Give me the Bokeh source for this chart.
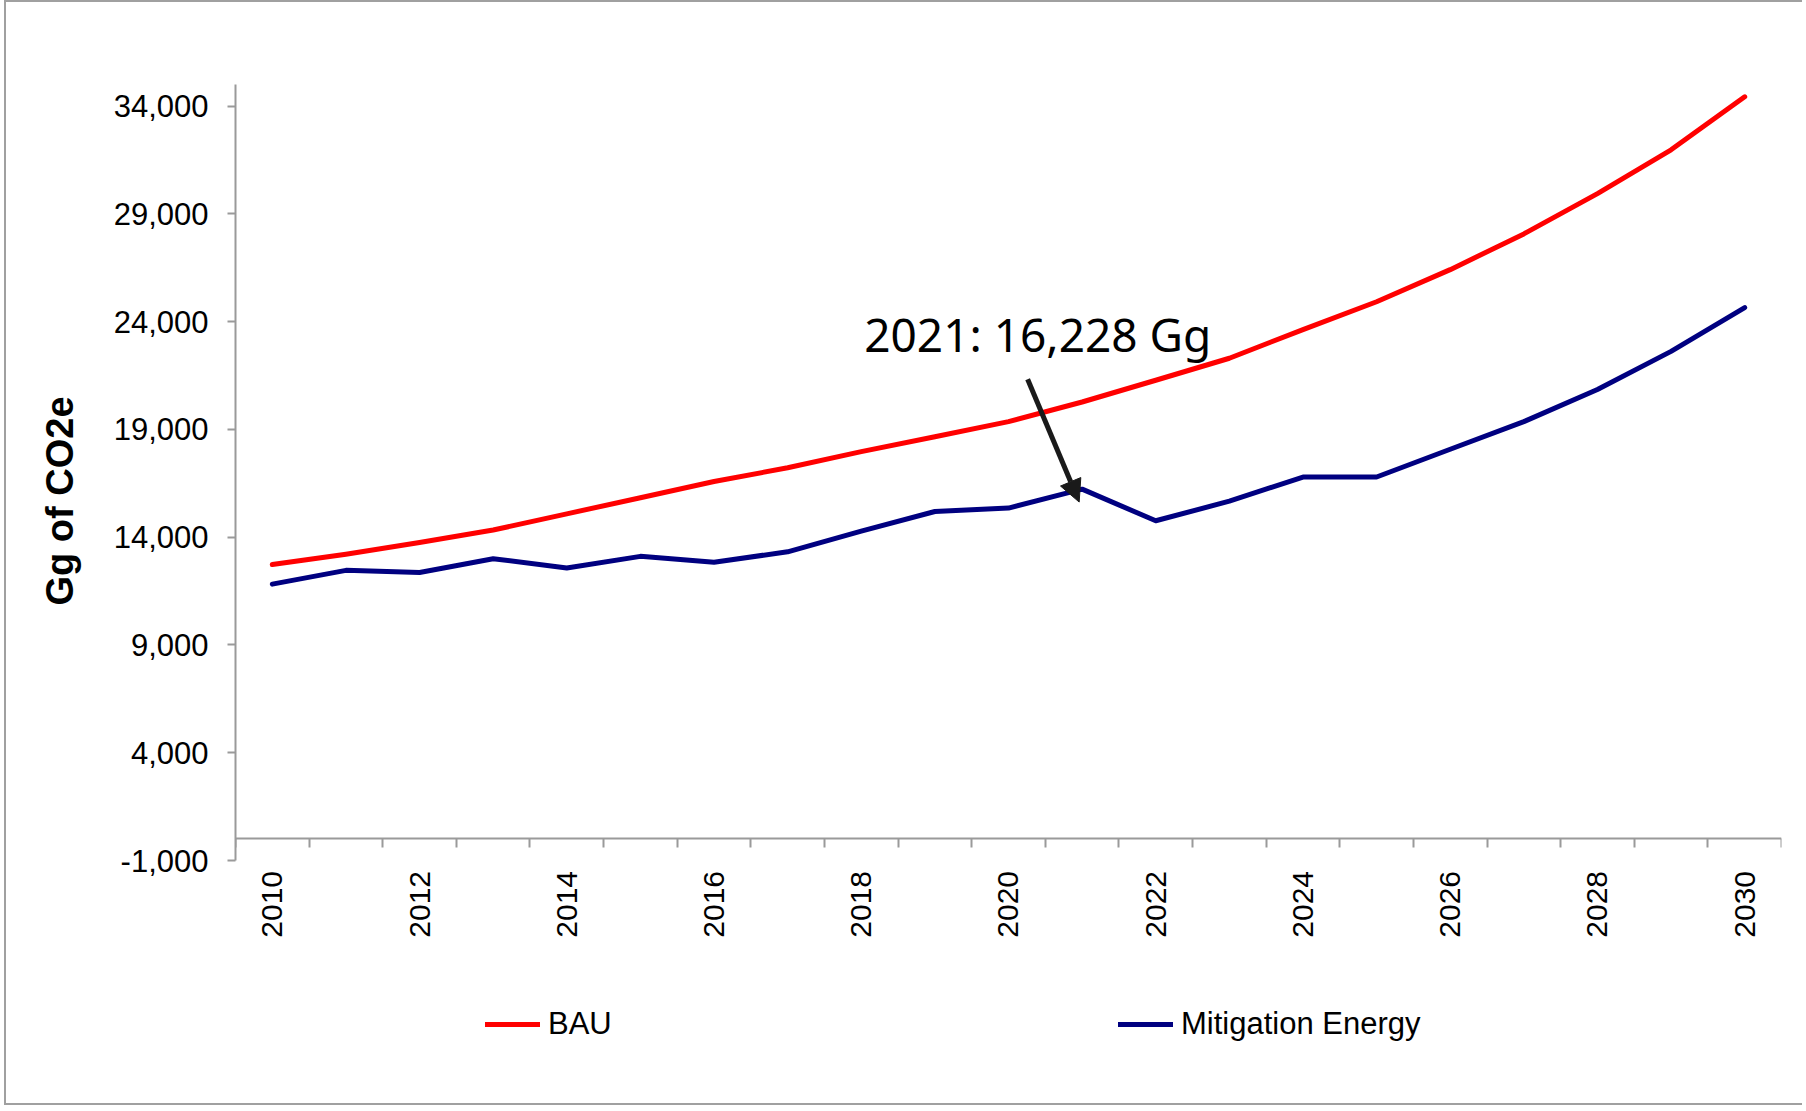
import math
from bokeh.plotting import figure
from bokeh.models import (Range1d, FixedTicker, NumeralTickFormatter, Legend, LegendItem,
                          Arrow, NormalHead, Label, Title)
from bokeh.embed import file_html
from bokeh.resources import INLINE

years = list(range(2010, 2031))
bau = [12730, 13210, 13750, 14330, 15080, 15830, 16580, 17220, 17970, 18660, 19360,
       20270, 21280, 22300, 23630, 24920, 26410, 28070, 29940, 31970, 34430]
mitigation = [11820, 12460, 12360, 13000, 12570, 13110, 12840, 13320, 14280, 15190, 15350,
              16228, 14760, 15670, 16790, 16790, 18080, 19360, 20850, 22620, 24650]
y_ticks = [-1000, 4000, 9000, 14000, 19000, 24000, 29000, 34000]
x_label_years = list(range(2010, 2031, 2))
series_names = ["BAU", "Mitigation Energy"]
y_title = "Gg of CO2e"
annot_idx = 11  # 2021

W, H = 1798, 1105
TOP, BOTTOM = 82, 7
Y_MIN, Y_MAX = -1000, 35000
px_per_unit = (858 - TOP) / (Y_MAX - Y_MIN)
frame_bottom = H - BOTTOM
y_lo = Y_MAX - (frame_bottom - TOP) / px_per_unit

p = figure(width=W, height=H, output_backend="svg", toolbar_location=None,
           x_range=Range1d(2009.5, 2030.5), y_range=Range1d(y_lo, Y_MAX),
           min_border_left=229, min_border_right=23, min_border_top=TOP, min_border_bottom=BOTTOM)
p.styles = {"border-left": "2px solid #a0a0a0", "border-top": "2px solid #a0a0a0",
            "border-bottom": "2px solid #a0a0a0", "margin-left": "4px"}
p.outline_line_color = None
p.xgrid.visible = False
p.ygrid.visible = False
p.background_fill_color = "white"
p.border_fill_color = "white"

axis_col = "#9a9a9a"
tick_font = "Liberation Sans"

# y axis
p.yaxis.bounds = (Y_MIN, Y_MAX)
p.yaxis.ticker = FixedTicker(ticks=y_ticks)
p.yaxis.formatter = NumeralTickFormatter(format="0,0")
p.yaxis.axis_line_color = axis_col
p.yaxis.axis_line_width = 2
p.yaxis.major_tick_line_color = axis_col
p.yaxis.major_tick_line_width = 2
p.yaxis.major_tick_out = 8
p.yaxis.major_tick_in = 0
p.yaxis.minor_tick_line_color = None
p.yaxis.major_label_standoff = 19
p.yaxis.major_label_text_font = tick_font
p.yaxis.major_label_text_font_size = "31px"
p.yaxis.major_label_text_color = "black"

# y axis title (starts ~603px from the top of the figure, reading upwards)
p.add_layout(Title(text=y_title, align="left", offset=frame_bottom - 603,
                   text_font=tick_font, text_font_style="bold", text_font_size="38px",
                   text_color="black", standoff=60), "left")

# x axis at zero (category style)
minor = [y - 0.5 for y in years] + [years[-1] + 0.5]
p.xaxis.ticker = FixedTicker(ticks=x_label_years, minor_ticks=minor)
p.xaxis.fixed_location = 0
p.xaxis.axis_line_color = axis_col
p.xaxis.axis_line_width = 2
p.xaxis.major_tick_line_color = None
p.xaxis.major_tick_out = 9
p.xaxis.major_tick_in = 0
p.xaxis.minor_tick_line_color = axis_col
p.xaxis.minor_tick_line_width = 2
p.xaxis.minor_tick_out = 9
p.xaxis.minor_tick_in = 0
p.xaxis.major_label_orientation = math.pi / 2
p.xaxis.major_label_standoff = 23
p.xaxis.major_label_text_font = tick_font
p.xaxis.major_label_text_font_size = "30px"
p.xaxis.major_label_text_color = "black"

r_bau = p.line(years, bau, line_color="#ff0000", line_width=5, line_cap="round", line_join="round")
r_mit = p.line(years, mitigation, line_color="#000080", line_width=5, line_cap="round", line_join="round")

# annotation
x_pt, y_pt = years[annot_idx], mitigation[annot_idx]
p.add_layout(Arrow(end=NormalHead(size=22, fill_color="#1a1a1a", line_color="#1a1a1a"),
                   x_start=x_pt - 0.74, y_start=y_pt + 5100,
                   x_end=x_pt - 0.04, y_end=y_pt - 600,
                   line_color="#1a1a1a", line_width=5))
p.add_layout(Label(x=x_pt - 2.96, y=y_pt + 7200,
                   text=f"{x_pt}: {y_pt:,} Gg", text_font="Noto Sans",
                   text_font_size="46px", text_baseline="middle", text_color="black"))

# legend (below the axis, inside the extended frame)
lg = Legend(items=[LegendItem(label=series_names[0], renderers=[r_bau]),
                   LegendItem(label=series_names[1], renderers=[r_mit])],
            location=(250, 58), orientation="horizontal", padding=0, margin=0, spacing=0,
            border_line_color=None, background_fill_alpha=0, glyph_width=55,
            glyph_height=34, label_height=34, label_width=570, label_standoff=8,
            label_text_font=tick_font, label_text_font_size="31px", label_text_color="black")
p.add_layout(lg)

open("out.html", "w").write(file_html(p, INLINE))
